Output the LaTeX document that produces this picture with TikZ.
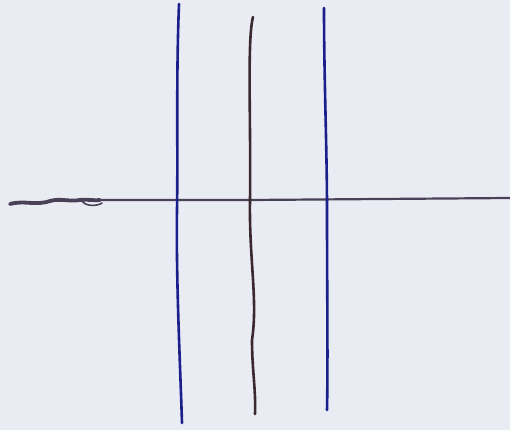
\documentclass[tikz,border=0pt]{standalone}
\definecolor{bg}{HTML}{E9ECF3}
\definecolor{penblue}{HTML}{1A1F8C}
\definecolor{penbrown}{HTML}{3A2A30}
\definecolor{penline}{HTML}{4A4058}
\begin{document}
\begin{tikzpicture}[x=1pt,y=-1pt,
  stroke/.style={line width=2.6pt,line cap=round,line join=round}]
\fill[bg] (0,0) rectangle (510,430);
\useasboundingbox (0,0) rectangle (510,430);
% horizontal line
\coordinate (h0) at (10,204);
\coordinate (h1) at (510,198);
\draw[stroke,penline,line width=2.2pt] (100,200) -- (250,200) -- (h1);
\draw[stroke,penline,line width=3.8pt] (h0) .. controls (25,200) and (35,206) .. (50,201)
  .. controls (60,198) and (70,202) .. (80,200)
  .. controls (88,199) and (95,201) .. (100,200);
\draw[stroke,penline,line width=1.6pt] (82,201) .. controls (86,207) and (98,206) .. (102,203);
% left blue vertical
\coordinate (a0) at (179,4);
\coordinate (a1) at (182,423);
\draw[stroke,penblue] (a0) .. controls (176,80) and (178,150) .. (177,210)
  .. controls (176,280) and (180,360) .. (a1);
% middle brown vertical
\coordinate (b0) at (253,17);
\coordinate (b1) at (255,414);
\draw[stroke,penbrown] (b0) .. controls (247,40) and (251,120) .. (250,200)
  .. controls (249,260) and (258,300) .. (252,340)
  .. controls (252,370) and (256,390) .. (b1);
% right blue vertical
\coordinate (c0) at (324,8);
\coordinate (c1) at (327,410);
\draw[stroke,penblue] (c0) .. controls (324,80) and (327,150) .. (327,210)
  .. controls (327,290) and (328,360) .. (c1);
\end{tikzpicture}
\end{document}
